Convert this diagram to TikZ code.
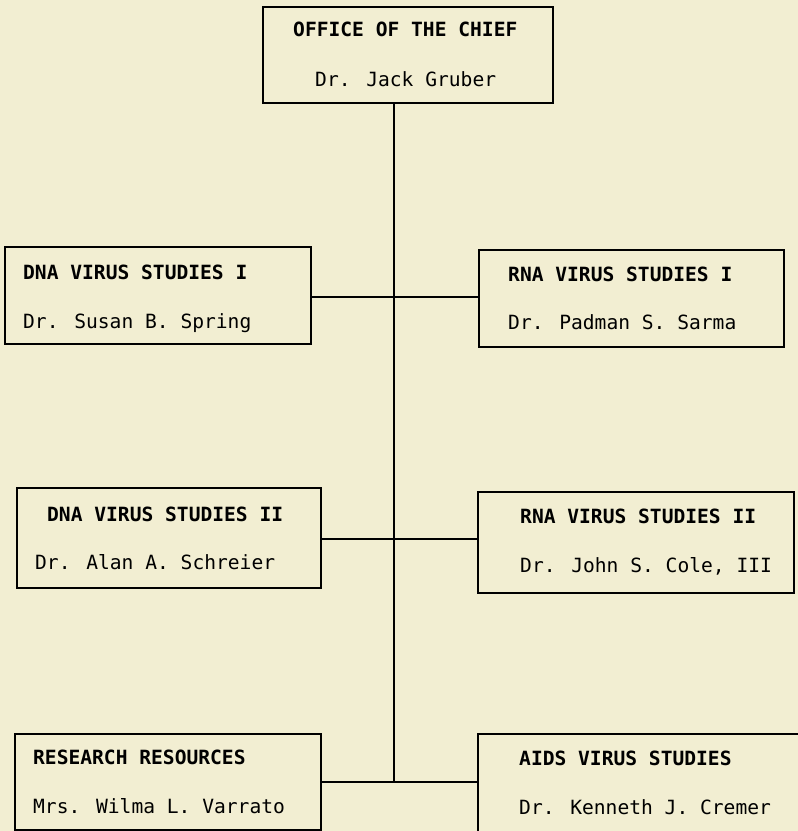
\documentclass[tikz,border=0pt]{standalone}
\usepackage{fontspec}
\newfontfamily\chartfont{DejaVu Sans Mono}
\usetikzlibrary{positioning}

\definecolor{paper}{RGB}{242,238,210}
\tikzset{
  unit/.style={draw, line width=1.6pt, inner sep=0pt, anchor=north west},
  head/.style={anchor=base west, inner sep=0pt, font=\chartfont\bfseries\fontsize{19.6}{20}\selectfont},
  person/.style={anchor=base west, inner sep=0pt, font=\chartfont\fontsize{19.6}{20}\selectfont},
  link/.style={line width=1.6pt}
}

\begin{document}
\begin{tikzpicture}[x=1pt,y=-1pt]
  \fill[paper] (0,0) rectangle (798,831);
  \useasboundingbox (0,0) rectangle (798,831);
  % boxes
  \node[unit, minimum width=290pt, minimum height=96pt] (chief) at (262,6) {};
  \node[unit, minimum width=306pt, minimum height=97pt] (dnaA) at (4,246) {};
  \node[unit, minimum width=305pt, minimum height=97pt] (rnaA) at (478,249) {};
  \node[unit, minimum width=304pt, minimum height=100pt] (dnaB) at (16,487) {};
  \node[unit, minimum width=316pt, minimum height=101pt] (rnaB) at (477,491) {};
  \node[unit, minimum width=306pt, minimum height=96pt] (res) at (14,733) {};
  \node[unit, minimum width=330pt, minimum height=110pt] (aids) at (477,733) {};
  % texts
  \node[head] (chiefT) at (293,36) {OFFICE OF THE CHIEF};
  \node[person] (chiefN) at (315,86) {Dr. Jack Gruber};
  \node[head] (dnaAT) at (23,279) {DNA VIRUS STUDIES I};
  \node[person] (dnaAN) at (23,328) {Dr. Susan B. Spring};
  \node[head] (rnaAT) at (508,281) {RNA VIRUS STUDIES I};
  \node[person] (rnaAN) at (508,329) {Dr. Padman S. Sarma};
  \node[head] (dnaBT) at (47,521) {DNA VIRUS STUDIES II};
  \node[person] (dnaBN) at (35,569) {Dr. Alan A. Schreier};
  \node[head] (rnaBT) at (520,523) {RNA VIRUS STUDIES II};
  \node[person] (rnaBN) at (520,572) {Dr. John S. Cole, III};
  \node[head] (resT) at (33,764) {RESEARCH RESOURCES};
  \node[person] (resN) at (33,813) {Mrs. Wilma L. Varrato};
  \node[head] (aidsT) at (519,765) {AIDS VIRUS STUDIES};
  \node[person] (aidsN) at (519,814) {Dr. Kenneth J. Cremer};
  % connectors
  \coordinate (trunk) at (394,782);
  \draw[link] (chief.south -| trunk) -- (trunk);
  \draw[link] (dnaA.east |- 0,297) -- (rnaA.west |- 0,297);
  \draw[link] (dnaB.east |- 0,539) -- (rnaB.west |- 0,539);
  \draw[link] (res.east |- trunk) -- (aids.west |- trunk);
\end{tikzpicture}
\end{document}
